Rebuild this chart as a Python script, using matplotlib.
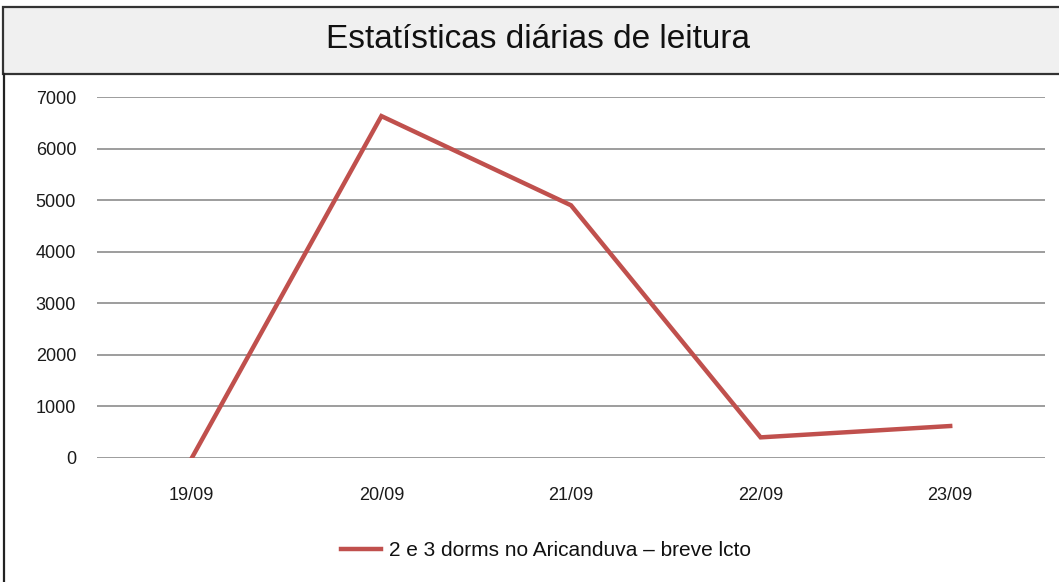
import matplotlib.pyplot as plt
from matplotlib.patches import Rectangle
from matplotlib.lines import Line2D

plt.rcParams['font.family'] = ['Liberation Sans Narrow', 'Liberation Sans', 'DejaVu Sans']

dias = ['19/09', '20/09', '21/09', '22/09', '23/09']
leituras = [0, 6630, 4900, 400, 620]
serie = '2 e 3 dorms no Aricanduva \u2013 breve lcto'

W, H = 1059, 582
fig = plt.figure(figsize=(W / 100, H / 100), dpi=100)

# title band and outer frame
fig.patches.append(Rectangle((3 / W, 1 - 74 / H), 1.0, 67 / H, transform=fig.transFigure,
                             facecolor='#f0f0f0', edgecolor='#333333', linewidth=1.6))
fig.add_artist(Line2D([4 / W, 4 / W], [0, 1 - 74 / H], transform=fig.transFigure,
                      color='#222222', linewidth=1.6))
fig.text(0.508, 1 - 39 / H, 'Estatísticas diárias de leitura', ha='center', va='center',
         fontsize=24, color='#111111')

ax = fig.add_axes([97 / W, 1 - 458 / H, (1045 - 97) / W, (458 - 97) / H])
x = list(range(len(dias)))
ax.plot(x, leituras, color='#c0504d', linewidth=3.2, label=serie, solid_joinstyle='miter')

ax.set_xlim(-0.5, len(dias) - 0.5)
ax.set_ylim(0, 7000)
ax.set_yticks(range(0, 7001, 1000))
ax.set_xticks(x)
ax.set_xticklabels(dias)
ax.grid(axis='y', color='#8c8c8c', linewidth=1.2)
ax.set_axisbelow(True)
for s in ax.spines.values():
    s.set_visible(False)
ax.tick_params(length=0, labelsize=13, colors='#1a1a1a')
ax.tick_params(axis='y', pad=15)
ax.tick_params(axis='x', pad=21)

leg = fig.legend(loc='center', bbox_to_anchor=(0.516, 1 - 551 / H), frameon=False,
                 fontsize=15, handlelength=1.9, handletextpad=0.4)
for t in leg.get_texts():
    t.set_color('#111111')

fig.savefig('out.png', dpi=100)
